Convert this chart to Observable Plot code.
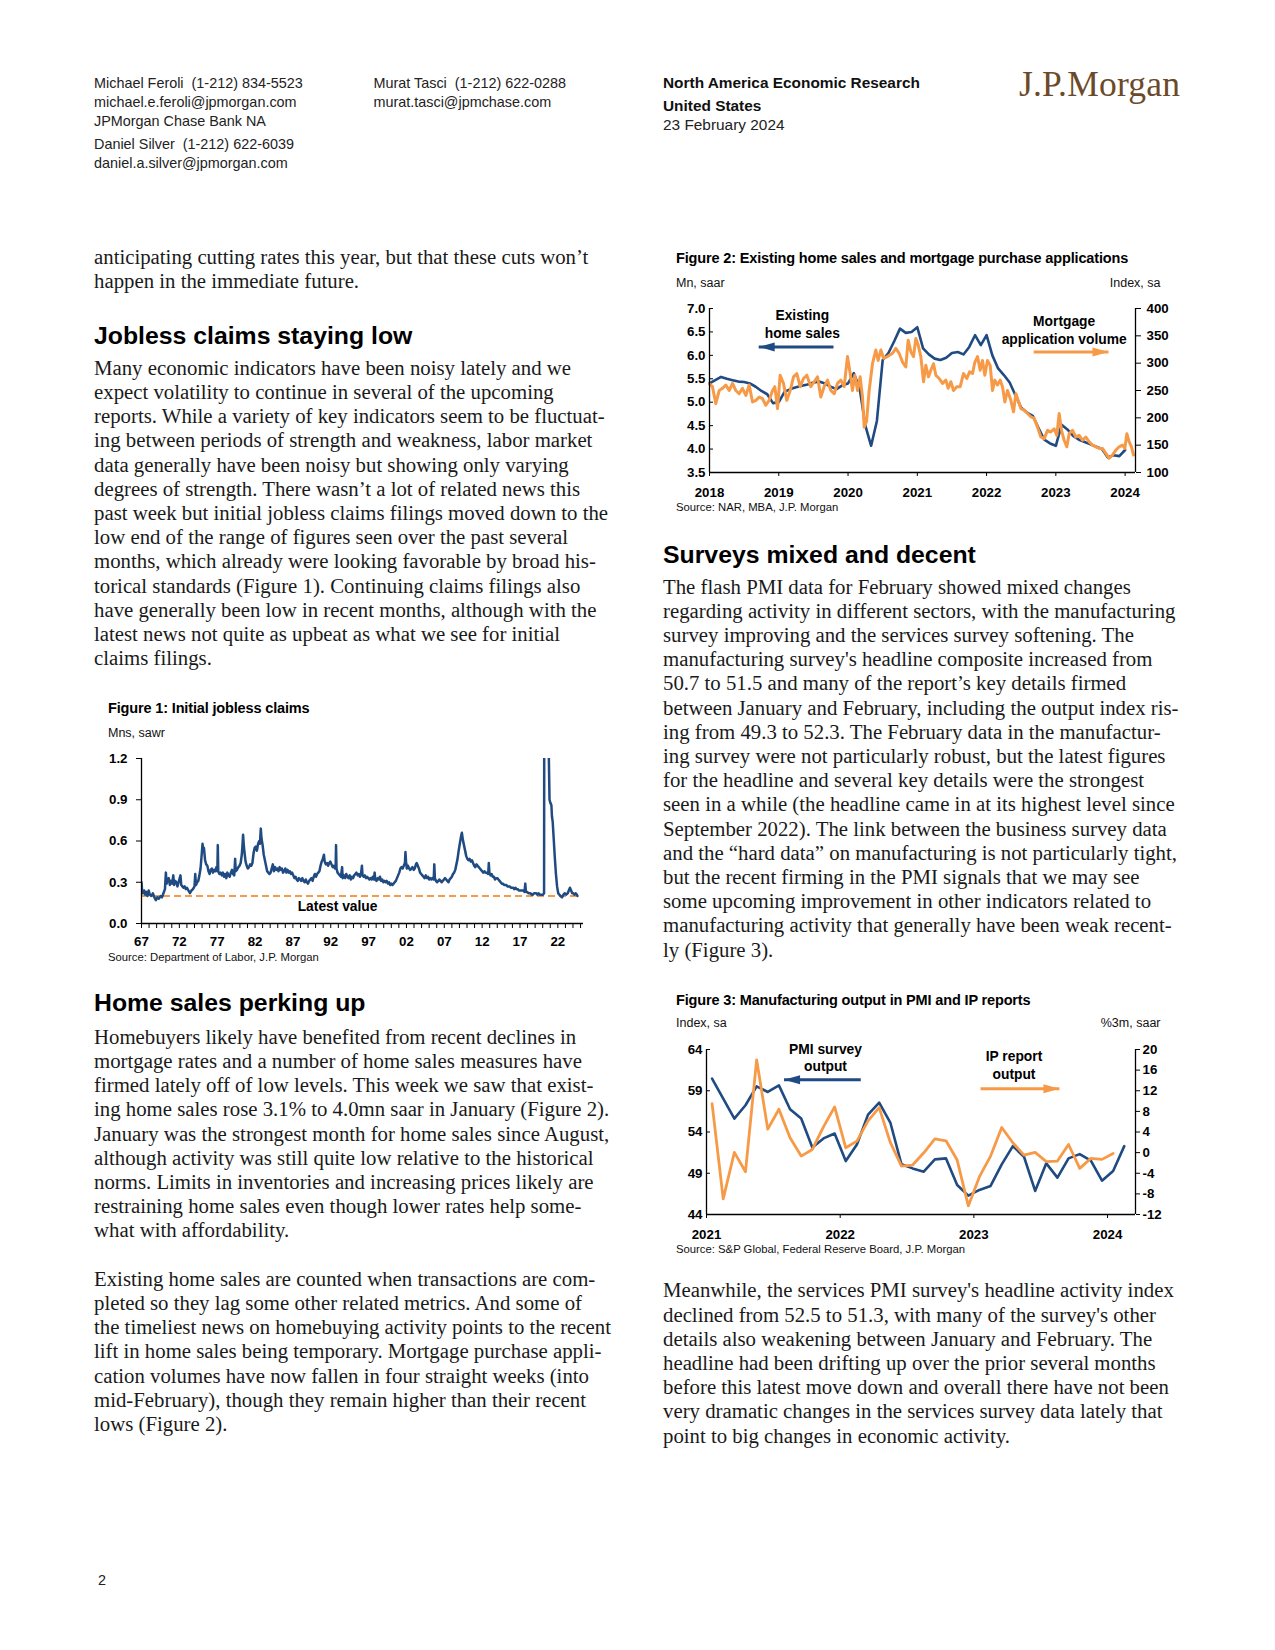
<!DOCTYPE html>
<html>
<head>
<meta charset="utf-8">
<script src="https://cdn.jsdelivr.net/npm/d3@7"></script>
<script src="https://cdn.jsdelivr.net/npm/@observablehq/plot@0.6"></script>
<style>
  html, body { margin: 0; padding: 0; background: #fff; }
  #page { position: relative; width: 1275px; height: 1650px; background: #fff; overflow: hidden; color: #1a1a1a; }
  .abs { position: absolute; white-space: pre; }
  .hdr { font-family: "Liberation Sans", Arial, sans-serif; font-size: 14.4px; line-height: 16px; color: #222; }
  .hdr3 { font-size: 15.4px; }
  .hdrb { font-weight: bold; color: #111; }
  .logo { font-family: "Liberation Serif", "Times New Roman", serif; font-size: 35.5px; line-height: 34px; color: #6b4a2a; letter-spacing: 0.2px; }
  .body { font-family: "Liberation Serif", "Times New Roman", serif; font-size: 20.8px; line-height: 24.2px; color: #1a1a1a; }
  .h2 { font-family: "Liberation Sans", Arial, sans-serif; font-weight: bold; font-size: 24.8px; line-height: 28px; color: #000; }
  .ftitle { font-family: "Liberation Sans", Arial, sans-serif; font-weight: bold; font-size: 14.5px; line-height: 16px; color: #000; letter-spacing: -0.15px; }
  .funit { font-family: "Liberation Sans", Arial, sans-serif; font-size: 12.5px; line-height: 16px; color: #111; }
  .fsrc { font-family: "Liberation Sans", Arial, sans-serif; font-size: 11.3px; line-height: 14px; color: #111; }
  .chart { position: absolute; }
</style>
</head>
<body>
<div id="page"></div>
<script>
// ---------------- DATA ----------------
// Figure 1: initial jobless claims (millions, sawr) [decimal year, value]
const claims = [
[1967.00,0.30],[1967.08,0.24],[1967.20,0.22],[1967.35,0.24],[1967.50,0.21],[1967.65,0.23],[1967.80,0.20],[1967.95,0.24],[1968.10,0.21],[1968.30,0.20],[1968.50,0.22],[1968.70,0.19],[1968.90,0.17],[1969.10,0.19],[1969.30,0.18],[1969.50,0.20],[1969.70,0.19],[1969.90,0.22],[1970.10,0.25],[1970.22,0.37],[1970.32,0.29],[1970.45,0.32],[1970.60,0.33],[1970.75,0.28],[1970.90,0.31],[1971.05,0.29],[1971.20,0.35],[1971.30,0.28],[1971.45,0.31],[1971.60,0.30],[1971.75,0.27],[1971.90,0.30],[1972.05,0.33],[1972.15,0.35],[1972.25,0.28],[1972.40,0.27],[1972.55,0.26],[1972.70,0.27],[1972.85,0.25],[1973.00,0.26],[1973.20,0.24],[1973.40,0.22],[1973.60,0.24],[1973.80,0.25],[1974.00,0.27],[1974.10,0.36],[1974.20,0.28],[1974.35,0.30],[1974.50,0.31],[1974.65,0.35],[1974.80,0.40],[1974.95,0.50],[1975.06,0.58],[1975.15,0.54],[1975.25,0.55],[1975.40,0.46],[1975.55,0.43],[1975.70,0.42],[1975.85,0.38],[1976.00,0.36],[1976.15,0.39],[1976.30,0.40],[1976.45,0.37],[1976.60,0.39],[1976.75,0.38],[1976.90,0.41],[1977.02,0.38],[1977.08,0.57],[1977.14,0.38],[1977.30,0.36],[1977.45,0.37],[1977.60,0.35],[1977.75,0.37],[1977.90,0.34],[1978.05,0.36],[1978.20,0.33],[1978.35,0.37],[1978.50,0.35],[1978.65,0.34],[1978.80,0.37],[1978.95,0.39],[1979.10,0.36],[1979.25,0.35],[1979.37,0.47],[1979.45,0.38],[1979.60,0.39],[1979.80,0.41],[1979.95,0.42],[1980.10,0.44],[1980.25,0.50],[1980.35,0.58],[1980.42,0.645],[1980.50,0.58],[1980.60,0.52],[1980.75,0.45],[1980.90,0.42],[1981.05,0.40],[1981.20,0.41],[1981.35,0.43],[1981.50,0.42],[1981.65,0.44],[1981.80,0.51],[1981.95,0.55],[1982.10,0.56],[1982.25,0.53],[1982.40,0.58],[1982.55,0.60],[1982.65,0.58],[1982.76,0.69],[1982.85,0.62],[1983.00,0.57],[1983.15,0.50],[1983.30,0.46],[1983.45,0.42],[1983.60,0.38],[1983.75,0.37],[1983.90,0.36],[1984.05,0.37],[1984.20,0.40],[1984.35,0.43],[1984.50,0.38],[1984.65,0.41],[1984.80,0.39],[1984.95,0.40],[1985.10,0.38],[1985.25,0.41],[1985.40,0.39],[1985.55,0.40],[1985.70,0.37],[1985.85,0.38],[1986.00,0.40],[1986.15,0.37],[1986.30,0.39],[1986.45,0.37],[1986.60,0.38],[1986.75,0.36],[1986.90,0.37],[1987.05,0.35],[1987.20,0.33],[1987.35,0.34],[1987.50,0.32],[1987.65,0.31],[1987.80,0.33],[1987.95,0.32],[1988.10,0.31],[1988.25,0.33],[1988.40,0.31],[1988.55,0.30],[1988.70,0.32],[1988.85,0.30],[1989.00,0.29],[1989.15,0.31],[1989.30,0.32],[1989.45,0.33],[1989.60,0.31],[1989.75,0.34],[1989.90,0.36],[1990.05,0.34],[1990.20,0.36],[1990.35,0.37],[1990.50,0.38],[1990.65,0.42],[1990.80,0.45],[1990.95,0.47],[1991.10,0.50],[1991.20,0.45],[1991.35,0.43],[1991.50,0.44],[1991.65,0.42],[1991.80,0.44],[1991.95,0.45],[1992.10,0.43],[1992.25,0.41],[1992.40,0.42],[1992.55,0.40],[1992.65,0.42],[1992.70,0.57],[1992.76,0.40],[1992.90,0.37],[1993.05,0.36],[1993.20,0.35],[1993.35,0.34],[1993.50,0.41],[1993.58,0.33],[1993.75,0.35],[1993.90,0.33],[1994.05,0.36],[1994.20,0.34],[1994.35,0.33],[1994.50,0.35],[1994.65,0.32],[1994.80,0.34],[1994.95,0.33],[1995.10,0.35],[1995.25,0.36],[1995.40,0.37],[1995.55,0.35],[1995.70,0.36],[1995.85,0.34],[1996.00,0.36],[1996.12,0.42],[1996.20,0.35],[1996.35,0.34],[1996.50,0.35],[1996.65,0.33],[1996.80,0.34],[1996.95,0.33],[1997.10,0.32],[1997.25,0.33],[1997.40,0.32],[1997.55,0.34],[1997.70,0.32],[1997.80,0.37],[1997.88,0.32],[1998.05,0.31],[1998.20,0.33],[1998.35,0.32],[1998.50,0.34],[1998.65,0.31],[1998.80,0.32],[1998.95,0.30],[1999.10,0.31],[1999.25,0.30],[1999.40,0.31],[1999.55,0.29],[1999.70,0.30],[1999.85,0.28],[2000.00,0.29],[2000.15,0.28],[2000.30,0.29],[2000.45,0.30],[2000.60,0.31],[2000.75,0.33],[2000.90,0.35],[2001.05,0.37],[2001.20,0.40],[2001.35,0.41],[2001.50,0.40],[2001.65,0.42],[2001.80,0.44],[2001.87,0.52],[2001.95,0.45],[2002.05,0.40],[2002.20,0.42],[2002.35,0.40],[2002.50,0.39],[2002.65,0.40],[2002.80,0.41],[2002.95,0.39],[2003.10,0.40],[2003.25,0.43],[2003.35,0.44],[2003.50,0.42],[2003.65,0.40],[2003.80,0.37],[2003.95,0.36],[2004.10,0.35],[2004.25,0.34],[2004.40,0.33],[2004.55,0.35],[2004.70,0.33],[2004.85,0.34],[2005.00,0.32],[2005.15,0.33],[2005.30,0.32],[2005.45,0.33],[2005.60,0.32],[2005.68,0.43],[2005.76,0.33],[2005.90,0.31],[2006.05,0.30],[2006.20,0.31],[2006.35,0.32],[2006.50,0.31],[2006.65,0.30],[2006.80,0.31],[2006.95,0.32],[2007.10,0.33],[2007.25,0.32],[2007.40,0.31],[2007.55,0.30],[2007.70,0.32],[2007.85,0.33],[2008.00,0.34],[2008.15,0.36],[2008.30,0.37],[2008.45,0.39],[2008.60,0.43],[2008.75,0.47],[2008.90,0.53],[2009.05,0.58],[2009.20,0.63],[2009.32,0.66],[2009.45,0.61],[2009.60,0.57],[2009.75,0.53],[2009.90,0.49],[2010.05,0.47],[2010.20,0.46],[2010.35,0.47],[2010.50,0.45],[2010.65,0.46],[2010.80,0.44],[2010.95,0.42],[2011.10,0.41],[2011.25,0.43],[2011.40,0.42],[2011.55,0.41],[2011.70,0.40],[2011.85,0.39],[2012.00,0.38],[2012.15,0.37],[2012.30,0.38],[2012.45,0.37],[2012.60,0.37],[2012.80,0.36],[2012.88,0.44],[2012.96,0.37],[2013.10,0.35],[2013.25,0.36],[2013.40,0.34],[2013.55,0.34],[2013.70,0.32],[2013.85,0.33],[2014.00,0.33],[2014.15,0.32],[2014.30,0.31],[2014.45,0.30],[2014.60,0.29],[2014.75,0.29],[2014.90,0.28],[2015.05,0.28],[2015.20,0.28],[2015.35,0.27],[2015.50,0.27],[2015.65,0.27],[2015.80,0.26],[2015.95,0.26],[2016.10,0.26],[2016.25,0.25],[2016.40,0.26],[2016.55,0.25],[2016.70,0.25],[2016.85,0.24],[2017.00,0.24],[2017.15,0.24],[2017.30,0.24],[2017.45,0.24],[2017.60,0.23],[2017.70,0.29],[2017.78,0.23],[2017.95,0.23],[2018.10,0.22],[2018.25,0.22],[2018.40,0.22],[2018.55,0.21],[2018.70,0.21],[2018.85,0.22],[2019.00,0.22],[2019.15,0.22],[2019.30,0.21],[2019.45,0.22],[2019.60,0.21],[2019.75,0.21],[2019.90,0.21],[2020.05,0.21],[2020.18,0.22],[2020.24,3.30],[2020.30,6.15],[2020.45,2.40],[2020.60,1.50],[2020.80,1.25],[2020.90,0.90],[2021.00,0.88],[2021.15,0.86],[2021.22,0.78],[2021.32,0.74],[2021.45,0.62],[2021.60,0.48],[2021.75,0.36],[2021.90,0.27],[2022.05,0.22],[2022.20,0.21],[2022.35,0.20],[2022.55,0.19],[2022.75,0.21],[2022.90,0.22],[2023.10,0.21],[2023.30,0.22],[2023.45,0.24],[2023.60,0.26],[2023.75,0.24],[2023.90,0.22],[2024.05,0.22],[2024.20,0.21],[2024.35,0.22],[2024.50,0.21],[2024.60,0.20]
];
const fig1YTicks = [0, 0.3, 0.6, 0.9, 1.2];
const fig1LabelYears = [1967,1972,1977,1982,1987,1992,1997,2002,2007,2012,2017,2022];
const fig1Labels = ["67","72","77","82","87","92","97","02","07","12","17","22"];
const fig1Note = "Latest value";

// Figure 2: existing home sales (mn saar), monthly from Jan 2018
const ehsStartYear = 2018;
const ehs = [
5.40,5.47,5.54,5.50,5.47,5.44,5.43,5.40,5.33,5.24,5.17,4.98,
5.00,5.22,5.28,5.32,5.35,5.38,5.42,5.44,5.40,5.33,5.28,5.36,
5.40,5.62,5.30,4.50,4.07,4.60,5.90,6.05,6.30,6.57,6.48,6.50,
6.60,6.15,6.02,5.93,5.90,5.95,6.05,6.07,6.02,6.18,6.43,6.22,
6.43,6.00,5.72,5.58,5.42,5.15,4.88,4.78,4.71,4.45,4.20,4.12,
4.07,4.52,4.42,4.28,4.20,4.15,4.10,4.05,4.00,3.82,3.87,3.85,
3.98
];
// Mortgage purchase applications index (sa) [decimal year, index]
const mba = [
[2018.000,262],[2018.043,257],[2018.091,226],[2018.140,250],[2018.188,254],[2018.236,260],[2018.284,250],[2018.332,263],[2018.380,250],[2018.428,244],[2018.476,254],[2018.525,241],[2018.573,260],[2018.621,229],[2018.669,232],[2018.717,238],[2018.765,235],[2018.813,223],[2018.861,232],[2018.910,250],[2018.943,257],[2018.982,217],[2019.020,278],[2019.068,263],[2019.116,232],[2019.165,250],[2019.213,275],[2019.261,281],[2019.309,257],[2019.357,272],[2019.405,278],[2019.463,257],[2019.511,266],[2019.559,275],[2019.607,238],[2019.655,257],[2019.704,269],[2019.752,250],[2019.800,244],[2019.848,263],[2019.896,269],[2019.944,257],[2019.992,312],[2020.031,281],[2020.064,250],[2020.098,278],[2020.137,250],[2020.175,275],[2020.209,238],[2020.233,183],[2020.267,193],[2020.305,250],[2020.353,299],[2020.401,324],[2020.435,305],[2020.474,324],[2020.512,309],[2020.570,312],[2020.642,318],[2020.690,327],[2020.738,318],[2020.786,302],[2020.834,293],[2020.868,342],[2020.907,321],[2020.945,312],[2020.979,345],[2021.013,333],[2021.051,312],[2021.090,266],[2021.123,296],[2021.162,275],[2021.195,287],[2021.234,299],[2021.268,278],[2021.316,272],[2021.364,263],[2021.412,269],[2021.446,254],[2021.484,266],[2021.523,250],[2021.571,257],[2021.619,257],[2021.667,281],[2021.715,272],[2021.754,284],[2021.797,281],[2021.831,302],[2021.869,312],[2021.908,287],[2021.941,305],[2021.975,278],[2022.013,305],[2022.052,296],[2022.086,250],[2022.119,269],[2022.158,260],[2022.196,269],[2022.230,257],[2022.264,229],[2022.302,250],[2022.350,232],[2022.389,211],[2022.423,244],[2022.456,232],[2022.495,217],[2022.543,214],[2022.591,208],[2022.639,202],[2022.687,199],[2022.735,183],[2022.783,165],[2022.832,162],[2022.880,177],[2022.928,174],[2022.976,180],[2023.014,168],[2023.048,208],[2023.082,177],[2023.120,159],[2023.159,147],[2023.192,171],[2023.241,177],[2023.289,165],[2023.337,168],[2023.385,159],[2023.433,165],[2023.481,156],[2023.529,150],[2023.577,147],[2023.626,144],[2023.674,144],[2023.722,135],[2023.770,126],[2023.818,132],[2023.866,141],[2023.914,147],[2023.962,150],[2023.996,144],[2024.025,171],[2024.059,156],[2024.092,147],[2024.121,132]
];
const fig2LeftTicks = [3.5, 4.0, 4.5, 5.0, 5.5, 6.0, 6.5, 7.0];
const fig2RightTicks = [100, 150, 200, 250, 300, 350, 400];
const fig2Years = [2018, 2019, 2020, 2021, 2022, 2023, 2024];
const fig2Notes = [
  {t: 2019.34, v: 6.69, text: "Existing\nhome sales", series: "ehs"},
  {t: 2023.12, v: 6.56, text: "Mortgage\napplication volume", series: "mba"}
];
const fig2Arrows = [
  {t1: 2019.79, t2: 2018.71, v: 6.18, series: "ehs"},
  {t1: 2022.68, t2: 2023.76, v: 6.07, series: "mba"}
];

// Figure 3: PMI manufacturing output index (sa), monthly from Jan 2021
const pmiStartYear = 2021;
const pmiOutput = [
60.46,58.04,55.63,57.24,59.53,58.85,59.65,56.76,55.63,52.13,53.22,53.82,
50.48,52.49,56.11,57.56,55.15,50.08,49.59,49.19,50.68,50.80,47.58,46.29,
46.98,47.46,50.08,52.29,51.00,46.86,50.20,48.47,50.80,51.32,50.52,48.10,
49.27,52.29
];
// IP manufacturing output (%3m saar), monthly from Jan 2021
const ipOutput = [
9.50,-8.98,0.04,-3.70,18.0,4.55,8.41,2.87,-0.67,0.62,5.00,8.86,
0.94,2.23,6.16,8.73,1.97,-2.60,-2.41,-0.03,2.68,2.29,-1.44,-10.33,
-4.66,-0.67,4.87,1.91,-0.48,0.04,-1.76,-1.64,1.58,-3.05,-1.12,-1.31,
-0.15
];
const fig3LeftTicks = [44, 49, 54, 59, 64];
const fig3RightTicks = [-12, -8, -4, 0, 4, 8, 12, 16, 20];
const fig3Years = [2021, 2022, 2023, 2024];
const fig3Notes = [
  {t: 2021.89, v: 63.12, text: "PMI survey\noutput", series: "pmi"},
  {t: 2023.30, v: 62.21, text: "IP report\noutput", series: "ip"}
];
const fig3Arrows = [
  {t1: 2022.154, t2: 2021.58, v: 60.33, series: "pmi"},
  {t1: 2023.05, t2: 2023.64, v: 59.24, series: "ip"}
];

// ---------------- TEXT ----------------
const header = {
  col1: ["Michael Feroli  (1-212) 834-5523", "michael.e.feroli@jpmorgan.com", "JPMorgan Chase Bank NA", "Daniel Silver  (1-212) 622-6039", "daniel.a.silver@jpmorgan.com"],
  col2: ["Murat Tasci  (1-212) 622-0288", "murat.tasci@jpmchase.com"],
  col3: ["North America Economic Research", "United States", "23 February 2024"]
};
const p0 = ["anticipating cutting rates this year, but that these cuts won\u2019t", "happen in the immediate future."];
const p1 = [
"Many economic indicators have been noisy lately and we",
"expect volatility to continue in several of the upcoming",
"reports. While a variety of key indicators seem to be fluctuat-",
"ing between periods of strength and weakness, labor market",
"data generally have been noisy but showing only varying",
"degrees of strength. There wasn\u2019t a lot of related news this",
"past week but initial jobless claims filings moved down to the",
"low end of the range of figures seen over the past several",
"months, which already were looking favorable by broad his-",
"torical standards (Figure 1). Continuing claims filings also",
"have generally been low in recent months, although with the",
"latest news not quite as upbeat as what we see for initial",
"claims filings."];
const p2 = [
"Homebuyers likely have benefited from recent declines in",
"mortgage rates and a number of home sales measures have",
"firmed lately off of low levels. This week we saw that exist-",
"ing home sales rose 3.1% to 4.0mn saar in January (Figure 2).",
"January was the strongest month for home sales since August,",
"although activity was still quite low relative to the historical",
"norms. Limits in inventories and increasing prices likely are",
"restraining home sales even though lower rates help some-",
"what with affordability."];
const p3 = [
"Existing home sales are counted when transactions are com-",
"pleted so they lag some other related metrics. And some of",
"the timeliest news on homebuying activity points to the recent",
"lift in home sales being temporary. Mortgage purchase appli-",
"cation volumes have now fallen in four straight weeks (into",
"mid-February), though they remain higher than their recent",
"lows (Figure 2)."];
const p4 = [
"The flash PMI data for February showed mixed changes",
"regarding activity in different sectors, with the manufacturing",
"survey improving and the services survey softening. The",
"manufacturing survey's headline composite increased from",
"50.7 to 51.5 and many of the report\u2019s key details firmed",
"between January and February, including the output index ris-",
"ing from 49.3 to 52.3. The February data in the manufactur-",
"ing survey were not particularly robust, but the latest figures",
"for the headline and several key details were the strongest",
"seen in a while (the headline came in at its highest level since",
"September 2022). The link between the business survey data",
"and the \u201chard data\u201d on manufacturing is not particularly tight,",
"but the recent firming in the PMI signals that we may see",
"some upcoming improvement in other indicators related to",
"manufacturing activity that generally have been weak recent-",
"ly (Figure 3)."];
const p5 = [
"Meanwhile, the services PMI survey's headline activity index",
"declined from 52.5 to 51.3, with many of the survey's other",
"details also weakening between January and February. The",
"headline had been drifting up over the prior several months",
"before this latest move down and overall there have not been",
"very dramatic changes in the services survey data lately that",
"point to big changes in economic activity."];

// ---------------- STYLE ----------------
const BLUE = "#1f4b82";
const ORANGE = "#f79a47";
const FONT = "'Liberation Sans', Arial, sans-serif";

const page = document.getElementById("page");
function put(cls, text, left, top, extra) {
  const d = document.createElement("div");
  d.className = "abs " + cls;
  d.textContent = text;
  d.style.left = left + "px";
  d.style.top = top + "px";
  if (extra) Object.assign(d.style, extra);
  page.appendChild(d);
  return d;
}
function putRight(cls, text, right, top) {
  const d = put(cls, text, 0, top);
  d.style.left = "auto";
  d.style.right = (1275 - right) + "px";
  return d;
}
function para(lines, left, top) { put("body", lines.join("\n"), left, top); }

// header
const c1Tops = [75, 94, 113, 136, 155];
header.col1.forEach((t, i) => put("hdr", t, 94, c1Tops[i]));
header.col2.forEach((t, i) => put("hdr", t, 373.5, c1Tops[i]));
const c3Tops = [74.5, 97.5, 116.5];
header.col3.forEach((t, i) => put("hdr hdr3" + (i < 2 ? " hdrb" : ""), t, 663, c3Tops[i]));
put("logo", "J.P.Morgan", 1019, 67);

// left column
para(p0, 94, 244.5);
put("h2", "Jobless claims staying low", 94, 322);
para(p1, 94, 355.8);
put("ftitle", "Figure 1: Initial jobless claims", 108, 700);
put("funit", "Mns, sawr", 108, 724.5);
put("fsrc", "Source: Department of Labor, J.P. Morgan", 108, 950);
put("h2", "Home sales perking up", 94, 988.8);
para(p2, 94, 1024.8);
para(p3, 94, 1266.8);
put("hdr", "2", 98, 1572);

// right column
put("ftitle", "Figure 2: Existing home sales and mortgage purchase applications", 676, 250);
put("funit", "Mn, saar", 676, 274.5);
putRight("funit", "Index, sa", 1160.5, 274.5);
put("fsrc", "Source: NAR, MBA, J.P. Morgan", 676, 500);
put("h2", "Surveys mixed and decent", 663, 540.7);
para(p4, 663, 574.5);
put("ftitle", "Figure 3: Manufacturing output in PMI and IP reports", 676, 991.5);
put("funit", "Index, sa", 676, 1015);
putRight("funit", "%3m, saar", 1160.5, 1015);
put("fsrc", "Source: S&P Global, Federal Reserve Board, J.P. Morgan", 676, 1241.5);
para(p5, 663, 1278.3);

// ---------------- CHARTS ----------------
const headRight = {draw(ctx) { ctx.moveTo(8, 0); ctx.lineTo(-8, -4.5); ctx.lineTo(-8, 4.5); ctx.closePath(); }};
const headLeft = {draw(ctx) { ctx.moveTo(-8, 0); ctx.lineTo(8, -4.5); ctx.lineTo(8, 4.5); ctx.closePath(); }};
const plotStyle = {fontFamily: FONT, fontSize: "13.3px", fontWeight: "bold", color: "#000", background: "transparent", overflow: "visible"};

function mount(svg, left, top) {
  const w = document.createElement("div");
  w.className = "chart";
  w.style.left = left + "px";
  w.style.top = top + "px";
  w.appendChild(svg);
  page.appendChild(w);
}
function arrowMarks(arrows, colorOf) {
  const marks = [];
  for (const a of arrows) {
    const right = a.t2 > a.t1;
    marks.push(Plot.link([a], {x1: "t1", x2: "t2", y1: "v", y2: "v", stroke: colorOf(a.series), strokeWidth: 3}));
    marks.push(Plot.dot([a], {x: "t2", y: "v", symbol: right ? headRight : headLeft, fill: colorOf(a.series), stroke: "none", dx: right ? -8 : 8}));
  }
  return marks;
}

// Figure 1
{
  const cdata = claims.map(([t, v]) => ({t, v}));
  const first = cdata[0], last = cdata[cdata.length - 1];
  const yearTicks = d3.range(fig1LabelYears[0], 2026);
  const svg = Plot.plot({
    width: 500, height: 205,
    marginLeft: 41, marginRight: 17, marginTop: 13, marginBottom: 27,
    x: {domain: [1967, 2025.39]},
    y: {domain: [0, 1.2]},
    style: plotStyle,
    marks: [
      Plot.ruleY([last.v], {x1: first.t, x2: last.t, stroke: ORANGE, strokeWidth: 2, strokeDasharray: "7,4"}),
      Plot.line(cdata, {x: "t", y: "v", stroke: BLUE, strokeWidth: 2.5, clip: true}),
      Plot.ruleX([1967], {stroke: "#000", strokeWidth: 1.3}),
      Plot.ruleY([0], {stroke: "#000", strokeWidth: 1.3}),
      Plot.axisY(fig1YTicks, {anchor: "left", tickSize: 5, tickPadding: 9, tickFormat: d3.format(".1f"), label: null}),
      Plot.axisX(yearTicks, {anchor: "bottom", tickSize: 5, tickFormat: () => "", label: null}),
      Plot.axisX(fig1LabelYears, {anchor: "bottom", tickSize: 0, tickPadding: 13.4, tickFormat: d => fig1Labels[fig1LabelYears.indexOf(d)], label: null}),
      Plot.text([{t: 1992.9, v: 0.12}], {x: "t", y: "v", text: () => fig1Note, fontSize: 13.8, fontWeight: "bold", fill: "#000"})
    ]
  });
  mount(svg, 100, 745);
}

// Figure 2
{
  const toLeft = r => 3.5 + (r - 100) * 3.5 / 300;
  const fromLeft = l => 100 + (l - 3.5) * 300 / 3.5;
  const ehsData = ehs.map((v, i) => ({t: ehsStartYear + i / 12, v}));
  const mbaData = mba.map(([t, r]) => ({t, v: toLeft(r)}));
  const colorOf = s => s === "ehs" ? BLUE : ORANGE;
  const W = 520, ML = 44, MR = 50;
  const svg = Plot.plot({
    width: W, height: 210,
    marginLeft: ML, marginRight: MR, marginTop: 13, marginBottom: 33,
    x: {domain: [2018, 2024.15]},
    y: {domain: [3.5, 7]},
    style: plotStyle,
    marks: [
      Plot.line(ehsData, {x: "t", y: "v", stroke: BLUE, strokeWidth: 2.6}),
      Plot.line(mbaData, {x: "t", y: "v", stroke: ORANGE, strokeWidth: 3}),
      Plot.ruleX([2018], {stroke: "#000", strokeWidth: 1.3}),
      Plot.ruleX([2024.15], {stroke: "#000", strokeWidth: 1.3}),
      Plot.ruleY([3.5], {stroke: "#000", strokeWidth: 1.3}),
      Plot.tickY(fig2LeftTicks, {y: d => d, stroke: "#000", insetRight: W - ML - MR - 4}),
      Plot.axisY(fig2LeftTicks, {anchor: "left", tickSize: 0, tickPadding: 4, tickFormat: d3.format(".1f"), label: null}),
      Plot.axisY(fig2RightTicks.map(toLeft), {anchor: "right", tickSize: 5, tickPadding: 6, tickFormat: d => String(Math.round(fromLeft(d))), label: null}),
      Plot.axisX(fig2Years, {anchor: "bottom", tickSize: 4, tickPadding: 11, tickFormat: d => String(d), label: null}),
      ...arrowMarks(fig2Arrows, colorOf),
      Plot.text(fig2Notes, {x: "t", y: "v", text: "text", fontSize: 13.8, fontWeight: "bold", fill: "#000", lineHeight: 1.3})
    ]
  });
  mount(svg, 665, 295);
}

// Figure 3
{
  const toLeft = r => 44 + (r + 12) * 20 / 32;
  const fromLeft = l => (l - 44) * 32 / 20 - 12;
  const pmiData = pmiOutput.map((v, i) => ({t: pmiStartYear + (i + 0.5) / 12, v}));
  const ipData = ipOutput.map((r, i) => ({t: pmiStartYear + (i + 0.5) / 12, v: toLeft(r)}));
  const colorOf = s => s === "pmi" ? BLUE : ORANGE;
  const W = 520, ML = 41, MR = 50;
  const svg = Plot.plot({
    width: W, height: 211,
    marginLeft: ML, marginRight: MR, marginTop: 13, marginBottom: 33,
    x: {domain: [2021, 2024.209]},
    y: {domain: [44, 64]},
    style: plotStyle,
    marks: [
      Plot.line(pmiData, {x: "t", y: "v", stroke: BLUE, strokeWidth: 2.6}),
      Plot.line(ipData, {x: "t", y: "v", stroke: ORANGE, strokeWidth: 2.8}),
      Plot.ruleX([2021], {stroke: "#000", strokeWidth: 1.3}),
      Plot.ruleX([2024.209], {stroke: "#000", strokeWidth: 1.3}),
      Plot.ruleY([44], {stroke: "#000", strokeWidth: 1.3}),
      Plot.tickY(fig3LeftTicks, {y: d => d, stroke: "#000", insetRight: W - ML - MR - 4}),
      Plot.axisY(fig3LeftTicks, {anchor: "left", tickSize: 0, tickPadding: 4, tickFormat: d => String(d), label: null}),
      Plot.axisY(fig3RightTicks.map(toLeft), {anchor: "right", tickSize: 4, tickPadding: 3, tickFormat: d => String(Math.round(fromLeft(d))), label: null}),
      Plot.axisX(fig3Years, {anchor: "bottom", tickSize: 4, tickPadding: 11, tickFormat: d => String(d), label: null}),
      ...arrowMarks(fig3Arrows, colorOf),
      Plot.text(fig3Notes, {x: "t", y: "v", text: "text", fontSize: 13.8, fontWeight: "bold", fill: "#000", lineHeight: 1.3})
    ]
  });
  mount(svg, 665, 1036);
}
</script>
</body>
</html>
